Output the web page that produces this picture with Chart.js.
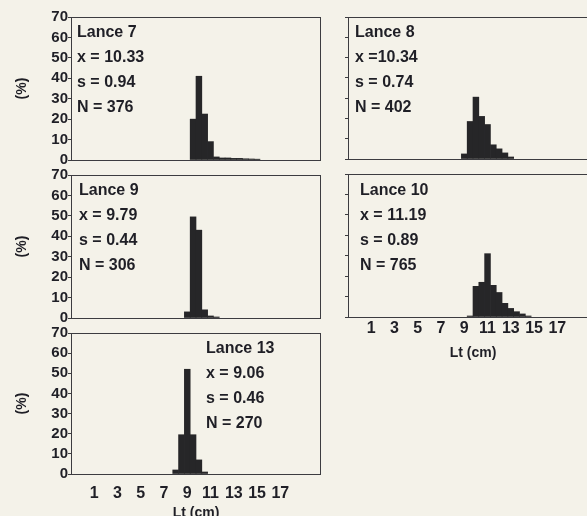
<!DOCTYPE html>
<html>
<head>
<meta charset="utf-8">
<script src="https://cdn.jsdelivr.net/npm/chart.js@4"></script>
<style>
  html, body { margin: 0; padding: 0; background: #f4f2e9; overflow: hidden; }
  #wrap { position: relative; width: 587px; height: 516px; overflow: hidden; }
  canvas { position: absolute; }
</style>
</head>
<body>
<div id="wrap">
  <canvas id="c7"></canvas>
  <canvas id="c8"></canvas>
  <canvas id="c9"></canvas>
  <canvas id="c10"></canvas>
  <canvas id="c13"></canvas>
</div>
<script>
// tick labels
const xTicks = [1, 3, 5, 7, 9, 11, 13, 15, 17];
const yTicks = [0, 10, 20, 30, 40, 50, 60, 70];

// length classes (cm, bin centres) and percentages per haul
const lance7Len = [9.5, 10, 10.5, 11, 11.5, 12, 12.5, 13, 13.5, 14, 14.5, 15];
const lance7Pct = [20, 41, 22.5, 9, 1.5, 1, 1, 0.8, 0.8, 0.6, 0.5, 0.4];
const lance7Stats = ['Lance 7', 'x = 10.33', 's = 0.94', 'N = 376'];

const lance8Len = [9, 9.5, 10, 10.5, 11, 11.5, 12, 12.5, 13];
const lance8Pct = [2.5, 18.5, 30.5, 21, 17, 7, 5, 3, 1];
const lance8Stats = ['Lance 8', 'x =10.34', 's = 0.74', 'N = 402'];

const lance9Len = [9, 9.5, 10, 10.5, 11, 11.5];
const lance9Pct = [3, 49.5, 43, 4, 1, 0.5];
const lance9Stats = ['Lance 9', 'x = 9.79', 's = 0.44', 'N = 306'];

const lance10Len = [9.5, 10, 10.5, 11, 11.5, 12, 12.5, 13, 13.5, 14, 14.5];
const lance10Pct = [0.5, 15, 17, 31, 15.5, 12, 6.7, 4.2, 2.6, 1.5, 0.5];
const lance10Stats = ['Lance 10', 'x = 11.19', 's = 0.89', 'N = 765'];

const lance13Len = [8, 8.5, 9, 9.5, 10, 10.5];
const lance13Pct = [2, 19.5, 52, 19.5, 7, 1];
const lance13Stats = ['Lance 13', 'x = 9.06', 's = 0.46', 'N = 270'];

const ink = '#1f1f26';
const barColor = '#262628';
const fam = "'Liberation Sans', Arial, sans-serif";

// box around each plot area
const boxPlugin = {
    id: 'box',
    afterDatasetsDraw(chart) {
        const a = chart.chartArea;
        const ctx = chart.ctx;
        ctx.save();
        ctx.strokeStyle = '#3c3c40';
        ctx.lineWidth = 1;
        ctx.strokeRect(Math.round(a.left) + 0.5, Math.round(a.top) + 0.5,
                       Math.round(a.right - a.left) - 1, Math.round(a.bottom - a.top));
        ctx.restore();
    }
};

// haul label, mean, sd, N
const statsPlugin = {
    id: 'stats',
    afterDraw(chart, args, opts) {
        const a = chart.chartArea;
        const ctx = chart.ctx;
        ctx.save();
        ctx.fillStyle = ink;
        ctx.font = 'bold 16px ' + fam;
        ctx.textBaseline = 'middle';
        opts.lines.forEach((t, i) => {
            ctx.fillText(t, a.left + opts.dx, a.top + opts.dy + i * 24.7);
        });
        ctx.restore();
    }
};

function makePanel(p) {
    const cv = document.getElementById(p.id);
    cv.width = p.w;
    cv.height = p.h;
    cv.style.left = p.x + 'px';
    cv.style.top = p.y + 'px';
    const a = p.area;
    return new Chart(cv, {
        type: 'bar',
        data: {
            datasets: [{
                data: p.len.map((v, i) => ({ x: v, y: p.pct[i] })),
                backgroundColor: barColor,
                borderWidth: 0,
                barPercentage: 1,
                categoryPercentage: 1
            }]
        },
        options: {
            responsive: false,
            animation: false,
            layout: { padding: { left: 0, top: a.top, right: p.w - a.right, bottom: 0 } },
            plugins: {
                legend: { display: false },
                tooltip: { enabled: false },
                stats: { lines: p.stats, dx: p.dx, dy: p.dy }
            },
            scales: {
                x: {
                    type: 'linear',
                    min: -1,
                    max: 20.5,
                    offset: false,
                    afterBuildTicks: s => { s.ticks = xTicks.map(v => ({ value: v })); },
                    afterFit: s => { s.height = p.h - a.bottom; },
                    grid: { display: false, drawTicks: false },
                    border: { display: false },
                    ticks: {
                        display: p.xLabels,
                        autoSkip: false,
                        maxRotation: 0,
                        padding: p.xPad,
                        color: ink,
                        font: { family: fam, size: 16, weight: 'bold' }
                    },
                    title: {
                        display: p.xLabels,
                        text: 'Lt (cm)',
                        color: ink,
                        padding: { top: 0, bottom: 0 },
                        font: { family: fam, size: 14, weight: 'bold' }
                    }
                },
                y: {
                    min: 0,
                    max: 70,
                    afterBuildTicks: s => { s.ticks = yTicks.map(v => ({ value: v })); },
                    afterFit: s => { s.width = a.left; },
                    grid: { drawOnChartArea: false, tickLength: 3, color: '#3c3c40' },
                    border: { display: false },
                    ticks: {
                        display: p.yLabels,
                        autoSkip: false,
                        padding: 0,
                        color: ink,
                        font: { family: fam, size: 15, weight: 'bold' }
                    },
                    title: {
                        display: p.yLabels,
                        text: '(%)',
                        color: ink,
                        padding: { top: 14, bottom: 0 },
                        font: { family: fam, size: 14, weight: 'bold' }
                    }
                }
            }
        },
        plugins: [boxPlugin, statsPlugin]
    });
}

const panels = [
    { id: 'c7', x: 0, y: 0, w: 330, h: 175, area: { left: 71, top: 17, right: 321, bottom: 160 },
      len: lance7Len, pct: lance7Pct, stats: lance7Stats, dx: 6, dy: 16, yLabels: true, xLabels: false, xPad: 0 },
    { id: 'c8', x: 330, y: 0, w: 270, h: 175, area: { left: 18, top: 17, right: 268, bottom: 159 },
      len: lance8Len, pct: lance8Pct, stats: lance8Stats, dx: 7, dy: 16, yLabels: false, xLabels: false, xPad: 0 },
    { id: 'c9', x: 0, y: 158, w: 330, h: 177, area: { left: 71, top: 17, right: 321, bottom: 160 },
      len: lance9Len, pct: lance9Pct, stats: lance9Stats, dx: 8, dy: 16, yLabels: true, xLabels: false, xPad: 0 },
    { id: 'c10', x: 330, y: 157, w: 270, h: 205, area: { left: 18, top: 17, right: 268, bottom: 160 },
      len: lance10Len, pct: lance10Pct, stats: lance10Stats, dx: 12, dy: 17, yLabels: false, xLabels: true, xPad: 2 },
    { id: 'c13', x: 0, y: 317, w: 330, h: 205, area: { left: 71, top: 16, right: 321, bottom: 157 },
      len: lance13Len, pct: lance13Pct, stats: lance13Stats, dx: 135, dy: 16, yLabels: true, xLabels: true, xPad: 10 }
];

panels.forEach(makePanel);
</script>
</body>
</html>
